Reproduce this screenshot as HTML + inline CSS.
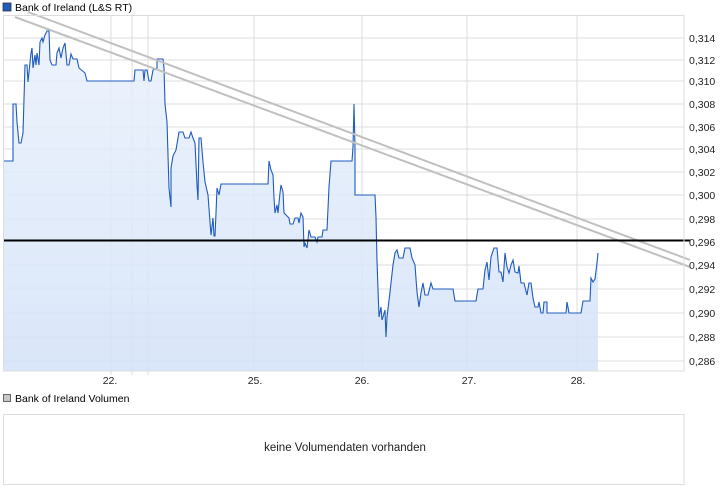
<!DOCTYPE html>
<html><head><meta charset="utf-8"><style>
body{margin:0;background:#fff;width:726px;height:496px;overflow:hidden;font-family:"Liberation Sans",sans-serif}
</style></head><body>
<svg width="726" height="496" xmlns="http://www.w3.org/2000/svg" font-family="Liberation Sans, sans-serif" font-size="10.5">
<defs><linearGradient id="g" x1="0" y1="0" x2="0" y2="1"><stop offset="0" stop-color="#eaf1fc"/><stop offset="1" stop-color="#d3e2f8"/></linearGradient></defs>
<rect x="3" y="3" width="8" height="8" fill="#1f5bbf" stroke="#333" stroke-width="0.8"/>
<text x="15" y="11">Bank of Ireland (L&amp;S RT)</text>
<g stroke="#dcdcdc" stroke-width="1">
<line x1="3" x2="684" y1="38" y2="38"/><line x1="3" x2="684" y1="60" y2="60"/><line x1="3" x2="684" y1="81" y2="81"/><line x1="3" x2="684" y1="104" y2="104"/><line x1="3" x2="684" y1="127" y2="127"/><line x1="3" x2="684" y1="149" y2="149"/><line x1="3" x2="684" y1="172" y2="172"/><line x1="3" x2="684" y1="195" y2="195"/><line x1="3" x2="684" y1="219" y2="219"/><line x1="3" x2="684" y1="265" y2="265"/><line x1="3" x2="684" y1="289" y2="289"/><line x1="3" x2="684" y1="313" y2="313"/><line x1="3" x2="684" y1="337" y2="337"/><line x1="3" x2="684" y1="361" y2="361"/>
<line x1="111" x2="111" y1="15" y2="375"/><line x1="132" x2="132" y1="15" y2="375"/><line x1="148" x2="148" y1="15" y2="375"/><line x1="254" x2="254" y1="15" y2="371"/><line x1="362" x2="362" y1="15" y2="371"/><line x1="467" x2="467" y1="15" y2="371"/><line x1="577" x2="577" y1="15" y2="371"/>
</g>
<path fill="url(#g)" fill-opacity="0.85" stroke="none" d="M3,371 L3,161 L13,161 L13,104 L16,104 L17,122 L19,143 L21,143 L23,133 L24,99 L25,65 L27,65 L28,82 L29,72 L31,53 L32,48 L33,68 L35,55 L36,65 L37,53 L39,65 L40,42 L42,38 L43,42 L45,35 L47,31 L49,31 L50,60 L52,65 L56,65 L57,53 L59,48 L61,58 L63,48 L65,43 L67,65 L69,65 L71,54 L73,59 L77,59 L79,68 L85,73 L87,81 L134,81 L135,70 L143,70 L144,81 L145,70 L147,70 L149,81 L151,81 L153,70 L157,68 L157,59 L163,59 L164,68 L165,104 L167,122 L169,188 L171,207 L171,168 L173,156 L176,150 L179,132 L183,132 L185,138 L189,138 L191,132 L193,138 L195,143 L197,185 L198,200 L199,138 L201,138 L203,162 L205,182 L208,195 L210,222 L211,235 L213,218 L214,236 L215,236 L216,213 L217,188 L219,195 L221,184 L268,184 L269,161 L271,170 L273,175 L274,198 L275,213 L277,205 L278,213 L280,193 L281,185 L283,192 L284,213 L289,218 L290,224 L293,224 L295,218 L298,218 L299,223 L301,213 L303,217 L304,247 L305,243 L307,248 L309,230 L311,237 L315,237 L317,242 L318,237 L322,237 L323,230 L327,230 L329,187 L331,161 L352,161 L353,147 L354,104 L355,147 L355,195 L375,195 L376,217 L377,261 L379,317 L381,307 L382,320 L383,317 L385,310 L386,337 L387,317 L390,292 L393,265 L395,253 L397,250 L399,258 L403,258 L405,248 L410,248 L412,258 L415,265 L417,292 L419,307 L421,293 L423,283 L425,295 L428,295 L431,283 L433,289 L453,289 L455,301 L476,301 L478,289 L483,289 L485,270 L487,262 L489,280 L491,257 L494,248 L497,248 L499,272 L501,272 L503,282 L505,253 L507,267 L509,273 L511,265 L513,260 L515,272 L518,273 L519,266 L521,283 L524,283 L527,295 L529,283 L531,283 L533,298 L535,307 L538,307 L539,302 L541,313 L543,313 L544,302 L547,302 L547,313 L566,313 L567,302 L569,313 L581,313 L583,301 L590,301 L591,278 L593,282 L595,279 L597,263 L598,253 L598,371 Z"/>
<polyline fill="none" stroke="#1f5bbf" stroke-width="1.1" points="3,161 13,161 13,104 16,104 17,122 19,143 21,143 23,133 24,99 25,65 27,65 28,82 29,72 31,53 32,48 33,68 35,55 36,65 37,53 39,65 40,42 42,38 43,42 45,35 47,31 49,31 50,60 52,65 56,65 57,53 59,48 61,58 63,48 65,43 67,65 69,65 71,54 73,59 77,59 79,68 85,73 87,81 134,81 135,70 143,70 144,81 145,70 147,70 149,81 151,81 153,70 157,68 157,59 163,59 164,68 165,104 167,122 169,188 171,207 171,168 173,156 176,150 179,132 183,132 185,138 189,138 191,132 193,138 195,143 197,185 198,200 199,138 201,138 203,162 205,182 208,195 210,222 211,235 213,218 214,236 215,236 216,213 217,188 219,195 221,184 268,184 269,161 271,170 273,175 274,198 275,213 277,205 278,213 280,193 281,185 283,192 284,213 289,218 290,224 293,224 295,218 298,218 299,223 301,213 303,217 304,247 305,243 307,248 309,230 311,237 315,237 317,242 318,237 322,237 323,230 327,230 329,187 331,161 352,161 353,147 354,104 355,147 355,195 375,195 376,217 377,261 379,317 381,307 382,320 383,317 385,310 386,337 387,317 390,292 393,265 395,253 397,250 399,258 403,258 405,248 410,248 412,258 415,265 417,292 419,307 421,293 423,283 425,295 428,295 431,283 433,289 453,289 455,301 476,301 478,289 483,289 485,270 487,262 489,280 491,257 494,248 497,248 499,272 501,272 503,282 505,253 507,267 509,273 511,265 513,260 515,272 518,273 519,266 521,283 524,283 527,295 529,283 531,283 533,298 535,307 538,307 539,302 541,313 543,313 544,302 547,302 547,313 566,313 567,302 569,313 581,313 583,301 590,301 591,278 593,282 595,279 597,263 598,253"/>
<line x1="28" y1="12" x2="690" y2="260" stroke="#c0c0c0" stroke-width="2"/>
<line x1="15" y1="17" x2="690" y2="267" stroke="#c0c0c0" stroke-width="2"/>
<line x1="3" y1="240.5" x2="690" y2="240.5" stroke="#000" stroke-width="2"/>
<rect x="3.5" y="15.5" width="680.5" height="355.5" fill="none" stroke="#dcdcdc"/>
<g fill="#222">
<text x="689" y="42">0,314</text><text x="689" y="64">0,312</text><text x="689" y="85">0,310</text><text x="689" y="108">0,308</text><text x="689" y="131">0,306</text><text x="689" y="153">0,304</text><text x="689" y="176">0,302</text><text x="689" y="199">0,300</text><text x="689" y="223">0,298</text><text x="689" y="246">0,296</text><text x="689" y="269">0,294</text><text x="689" y="293">0,292</text><text x="689" y="317">0,290</text><text x="689" y="341">0,288</text><text x="689" y="365">0,286</text>
</g>
<g text-anchor="middle" fill="#222">
<text x="110" y="384">22.</text><text x="255" y="384">25.</text><text x="362" y="384">26.</text><text x="469" y="384">27.</text><text x="578" y="384">28.</text>
</g>
<rect x="3.5" y="394.5" width="7" height="7" fill="#c8c8c8" stroke="#444" stroke-width="0.8"/>
<text x="15" y="402">Bank of Ireland Volumen</text>
<rect x="3.5" y="414.5" width="680.5" height="70" fill="none" stroke="#dcdcdc"/>
<text x="345" y="451" text-anchor="middle" font-size="11.5" fill="#222">keine Volumendaten vorhanden</text>
</svg>
</body></html>
